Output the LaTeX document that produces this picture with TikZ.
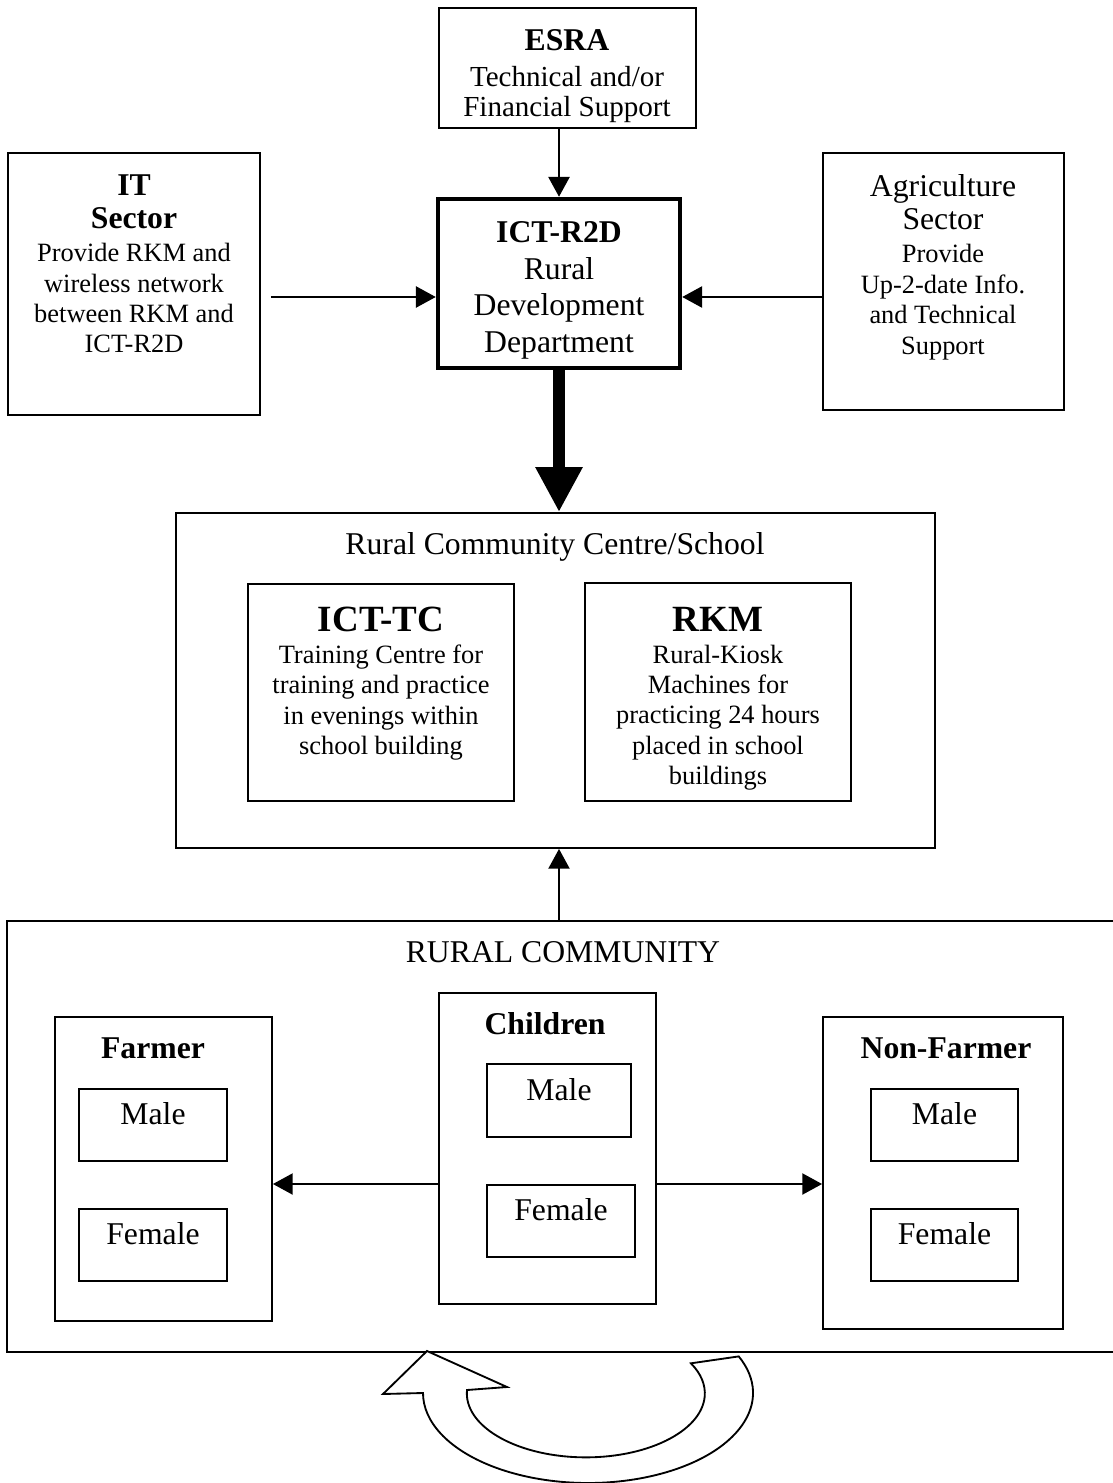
\documentclass[tikz,border=0pt]{standalone}
\usepackage{fontspec}
\setmainfont{Liberation Serif}
\usepackage{tikz}
\usetikzlibrary{positioning,fit,arrows.meta}
\tikzset {
frame/.style={shape=rectangle,draw,inner sep=0pt},
heading/.style={anchor=north,inner sep=0pt,text width=7cm,align=flush center,font=\fontsize{10}{11.5}\selectfont},
gender/.style={frame,font=\fontsize{12}{13.8}\selectfont,text depth=5.5pt},
uturn/.style={draw,fill=white}
}
\newcommand{\boldhead}{\fontsize{12}{13.8}\selectfont\bfseries}
\newcommand{\plainhead}{\fontsize{12}{13.8}\selectfont}
\newcommand{\bighead}{\fontsize{14}{16}\selectfont\bfseries}

\begin{document}
\begin{tikzpicture}
[>={Triangle[length=7.5pt,width=8pt]},x=0.0133cm,y=-0.0133cm,line width=0.7pt]
\useasboundingbox (0,0) rectangle (1113,1483);

% partners round the department
\node[frame,fit={(439,8) (696,128)}] (esra) {};
\node[frame,fit={(8,153) (260,415)}] (it sector) {};
\node[frame,fit={(823,153) (1064,410)}] (agri sector) {};
\node[frame,line width=1.7pt,fit={(438,199) (680,368)}] (r2d) {};

\node[heading,font=\fontsize{11}{11.5}\selectfont] (esra text) at (567,29) {{\boldhead ESRA}\\[2pt]Technical and/or\\Financial Support};
\node[heading] (it text) at (134,174) {{\boldhead IT}\\[1pt]{\boldhead Sector}\\[1pt]Provide RKM and\\wireless network\\between RKM and\\ICT-R2D};
\node[heading] (agri text) at (943,174) {{\plainhead Agriculture}\\[1pt]{\plainhead Sector}\\[1pt]Provide\\Up-2-date Info.\\and Technical\\Support};
\node[heading,font=\fontsize{12}{13.8}\selectfont] (r2d text) at (559,221) {\textbf{ICT-R2D}\\Rural\\Development\\Department};

\coordinate (side row) at (559,297);
\draw[->] (esra.south -| r2d.north) -- (r2d.north);
\draw[->,shorten <=3.8pt] (it sector.east |- side row) -- (r2d.west |- side row);
\draw[->] (agri sector.west |- side row) -- (r2d.east |- side row);

% centre / school
\node[frame,fit={(176,513) (935,848)}] (centre) {};
\node[heading,font=\fontsize{12}{13.8}\selectfont] (centre title) at (555,532) {Rural Community Centre/School};
\node[frame,fit={(248,584) (514,801)}] (ict tc) {};
\node[frame,fit={(585,583) (851,801)}] (rkm) {};
\node[heading] (ict tc text) at (381,606) {{\bighead ICT-TC}\\[0.6pt]Training Centre for\\training and practice\\in evenings within\\school building};
\node[heading] (rkm text) at (718,606) {{\bighead RKM}\\[0.6pt]Rural-Kiosk\\Machines for\\practicing 24 hours\\placed in school\\buildings};

\draw[->,>={Triangle[length=17pt,width=16.7pt]},line width=4.9pt] (r2d.south) -- (r2d.south |- centre.north);

% rural community
\node[frame,fit={(7,921) (1125,1352)}] (rural community) {};
\node[heading,font=\fontsize{12}{13.8}\selectfont] (rural title) at (563,941) {RURAL COMMUNITY};
\node[frame,fit={(55,1017) (272,1321)}] (farmer) {};
\node[frame,fit={(439,993) (656,1304)}] (children) {};
\node[frame,fit={(823,1017) (1063,1329)}] (non farmer) {};
\node[heading,font=\boldhead] (farmer title) at (153,1037) {Farmer};
\node[heading,font=\boldhead] (children title) at (545,1012) {Children};
\node[heading,font=\boldhead] (non farmer title) at (946,1037) {Non-Farmer};

\node[gender,fit={(79,1089) (227,1161)}] (farmer male) {Male};
\node[gender,fit={(79,1209) (227,1281)}] (farmer female) {Female};
\node[gender,fit={(487,1064) (631,1137)}] (children male) {Male};
\node[gender,fit={(487,1185) (635,1257)}] (children female) {Female};
\node[gender,fit={(871,1089) (1018,1161)}] (non farmer male) {Male};
\node[gender,fit={(871,1209) (1018,1281)}] (non farmer female) {Female};

\coordinate (group row) at (559,1184);
\draw[->] (children.west |- group row) -- (farmer.east |- group row);
\draw[->] (children.east |- group row) -- (non farmer.west |- group row);
\draw[->] (rural community.north -| side row) -- (centre.south -| side row);

% turning arrow under the community
\draw[uturn] (588,1393) ++(-24:165 and 90) arc[start angle=-24,end angle=180,x radius=165,y radius=90]
  -- (383,1394) -- (427,1351) -- (507,1387) -- (467,1390)
  arc[start angle=183,end angle=-28,x radius=119,y radius=64] -- cycle;
\end{tikzpicture}
\end{document}
